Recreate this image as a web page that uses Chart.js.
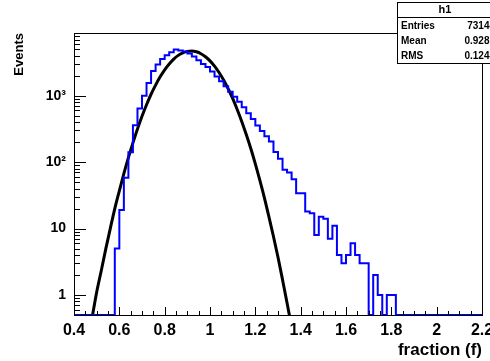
<!DOCTYPE html>
<html>
<head>
<meta charset="utf-8">
<script src="https://cdn.jsdelivr.net/npm/chart.js@4.4.0/dist/chart.umd.min.js"></script>
<style>
  html, body { margin: 0; padding: 0; background: #fff; }
</style>
</head>
<body>
<canvas id="h1" width="490" height="361"></canvas>
<script>
// histogram h1, bins of 0.02 from 0.40 to 2.20
var binStart = 0.40;
var binWidth = 0.02;
var counts = [
    0, 0, 0, 0, 0, 0, 0, 0, 0, 0,                       // 0.40 - 0.58
    5, 19, 58, 141, 360, 640, 1000, 1550, 2350, 2950,   // 0.60 - 0.78
    3550, 4050, 4500, 4950, 4800, 4600, 4300, 3900, 3400, 3000, // 0.80 - 0.98
    2700, 2300, 1950, 1650, 1380, 1150, 960, 810, 670, 545,     // 1.00 - 1.18
    445, 355, 295, 245, 205, 142, 112, 77, 70, 55,      // 1.20 - 1.38
    34, 34, 18, 17, 8, 15, 14, 7, 11, 4,                // 1.40 - 1.58
    3, 4, 6, 4, 3, 3, 0, 2, 1, 0,                       // 1.60 - 1.78
    1, 1, 0, 0, 0, 0, 0, 0, 0, 0,                       // 1.80 - 1.98
    0, 0, 0, 0, 0, 0, 0, 0, 0, 0                        // 2.00 - 2.18
];

// gaussian fit curve
var fitX = [0.46, 0.48, 0.50, 0.52, 0.54, 0.56, 0.58, 0.60, 0.62, 0.64,
            0.66, 0.68, 0.70, 0.72, 0.74, 0.76, 0.78, 0.80, 0.82, 0.84,
            0.86, 0.88, 0.90, 0.92, 0.94, 0.96, 0.98, 1.00, 1.02, 1.04,
            1.06, 1.08, 1.10, 1.12, 1.14, 1.16, 1.18, 1.20, 1.22, 1.24,
            1.26, 1.28, 1.30, 1.32, 1.34, 1.36, 1.38];
var fitY = [0.2, 0.46, 1.1, 2.3, 4.9, 10, 20, 37, 67, 117,
            195, 315, 490, 730, 1050, 1440, 1920, 2450, 3000, 3550,
            4040, 4410, 4640, 4700, 4570, 4280, 3850, 3340, 2780, 2230,
            1720, 1270, 910, 620, 410, 260, 160, 94, 53, 29,
            15, 7.6, 3.7, 1.7, 0.76, 0.33, 0.14];

var yTickValues = [1, 10, 100, 1000];
var yTickLabels = ['1', '10', '10\u00b2', '10\u00b3'];

var statsTitle = 'h1';
var statsNames = ['Entries', 'Mean', 'RMS'];
var statsValues = ['73148', '0.9281', '0.1243'];

var xMin = 0.4, xMax = 2.2;
var yMin = 0.5, yMax = 8770;

var FONT = '"Liberation Sans", Arial, sans-serif';

// step outline; empty bins sit on the bottom of the frame like ROOT draws them
var histPoints = [];
for (var i = 0; i < counts.length; i++) {
    histPoints.push({ x: binStart + i * binWidth, y: counts[i] > 0 ? counts[i] : yMin });
}
histPoints.push({ x: binStart + counts.length * binWidth, y: counts[counts.length - 1] > 0 ? counts[counts.length - 1] : yMin });

var fitPoints = fitX.map(function(x, k) { return { x: x, y: fitY[k] }; });

// frame, inward ticks and the stats box
var rootFrame = {
    id: 'rootFrame',
    afterDatasetsDraw: function(chart) {
        var ctx = chart.ctx;
        var a = chart.chartArea;
        var xs = chart.scales.x;
        var ys = chart.scales.y;
        ctx.save();
        ctx.strokeStyle = '#000';
        ctx.lineWidth = 1;
        ctx.strokeRect(a.left + 0.5, a.top + 0.5, a.right - a.left, a.bottom - a.top);

        ctx.beginPath();
        for (var k = 0; k <= 36; k++) {
            var px = Math.round(xs.getPixelForValue(xMin + k * 0.05)) + 0.5;
            var len = (k % 4 === 0) ? 8 : 4;
            ctx.moveTo(px, a.bottom);
            ctx.lineTo(px, a.bottom - len);
        }
        for (var d = -1; d <= 3; d++) {
            for (var m = 1; m <= 9; m++) {
                var v = m * Math.pow(10, d);
                if (v < yMin || v > yMax) continue;
                var py = Math.round(ys.getPixelForValue(v)) + 0.5;
                var l = (m === 1) ? 12 : 6;
                ctx.moveTo(a.left, py);
                ctx.lineTo(a.left + l, py);
            }
        }
        ctx.stroke();

        // stats box
        var bx = 397, by = 2, bw = 110, bh = 61;
        ctx.fillStyle = '#fff';
        ctx.fillRect(bx, by, bw, bh);
        ctx.strokeRect(bx + 0.5, by + 0.5, bw, bh);
        ctx.beginPath();
        ctx.moveTo(bx, by + 15.5);
        ctx.lineTo(bx + bw, by + 15.5);
        ctx.stroke();
        ctx.fillStyle = '#000';
        ctx.textBaseline = 'middle';
        ctx.font = 'bold 11px ' + FONT;
        ctx.textAlign = 'center';
        ctx.fillText(statsTitle, 445, by + 8);
        ctx.font = 'bold 10px ' + FONT;
        for (var r = 0; r < statsNames.length; r++) {
            var ty = by + 24 + r * 15;
            ctx.textAlign = 'left';
            ctx.fillText(statsNames[r], bx + 4, ty);
            ctx.textAlign = 'right';
            ctx.fillText(statsValues[r], 495, ty);
        }
        ctx.restore();
    }
};

Chart.defaults.color = '#000';
Chart.defaults.font.family = FONT;

new Chart(document.getElementById('h1'), {
    type: 'line',
    data: {
        datasets: [{
            data: histPoints,
            stepped: 'after',
            borderColor: '#0000ff',
            borderWidth: 2,
            pointRadius: 0,
            fill: false
        }, {
            data: fitPoints,
            borderColor: '#000000',
            borderWidth: 3,
            pointRadius: 0,
            cubicInterpolationMode: 'monotone',
            fill: false
        }]
    },
    options: {
        responsive: false,
        animation: false,
        devicePixelRatio: 1,
        layout: { padding: { top: 33, right: 8, bottom: 0, left: 0 } },
        plugins: {
            legend: { display: false },
            tooltip: { enabled: false }
        },
        scales: {
            x: {
                type: 'linear',
                min: xMin,
                max: xMax,
                grid: { display: false, drawTicks: false },
                border: { display: false },
                ticks: {
                    stepSize: 0.2,
                    autoSkip: false,
                    maxRotation: 0,
                    padding: 6,
                    font: { size: 16, weight: 'bold' },
                    callback: function(v) { return String(Number(v.toFixed(1))); }
                },
                title: {
                    display: true,
                    text: 'fraction (f)',
                    align: 'end',
                    font: { size: 17, weight: 'bold' },
                    padding: { top: 0, bottom: 0 }
                },
                afterFit: function(s) { s.height = 46; s.paddingLeft = 0; s.paddingRight = 0; }
            },
            y: {
                type: 'logarithmic',
                min: yMin,
                max: yMax,
                grid: { display: false, drawTicks: false },
                border: { display: false },
                afterBuildTicks: function(s) {
                    s.ticks = yTickValues.map(function(v) { return { value: v }; });
                },
                ticks: {
                    padding: 8,
                    font: { size: 14, weight: 'bold' },
                    callback: function(v) {
                        var k = yTickValues.indexOf(v);
                        return k >= 0 ? yTickLabels[k] : '';
                    }
                },
                title: {
                    display: true,
                    text: 'Events',
                    align: 'end',
                    font: { size: 13, weight: 'bold' },
                    padding: { top: 12, bottom: 0 }
                },
                afterFit: function(s) { s.width = 74; s.paddingTop = 0; s.paddingBottom = 0; }
            }
        }
    },
    plugins: [rootFrame]
});
</script>
</body>
</html>
